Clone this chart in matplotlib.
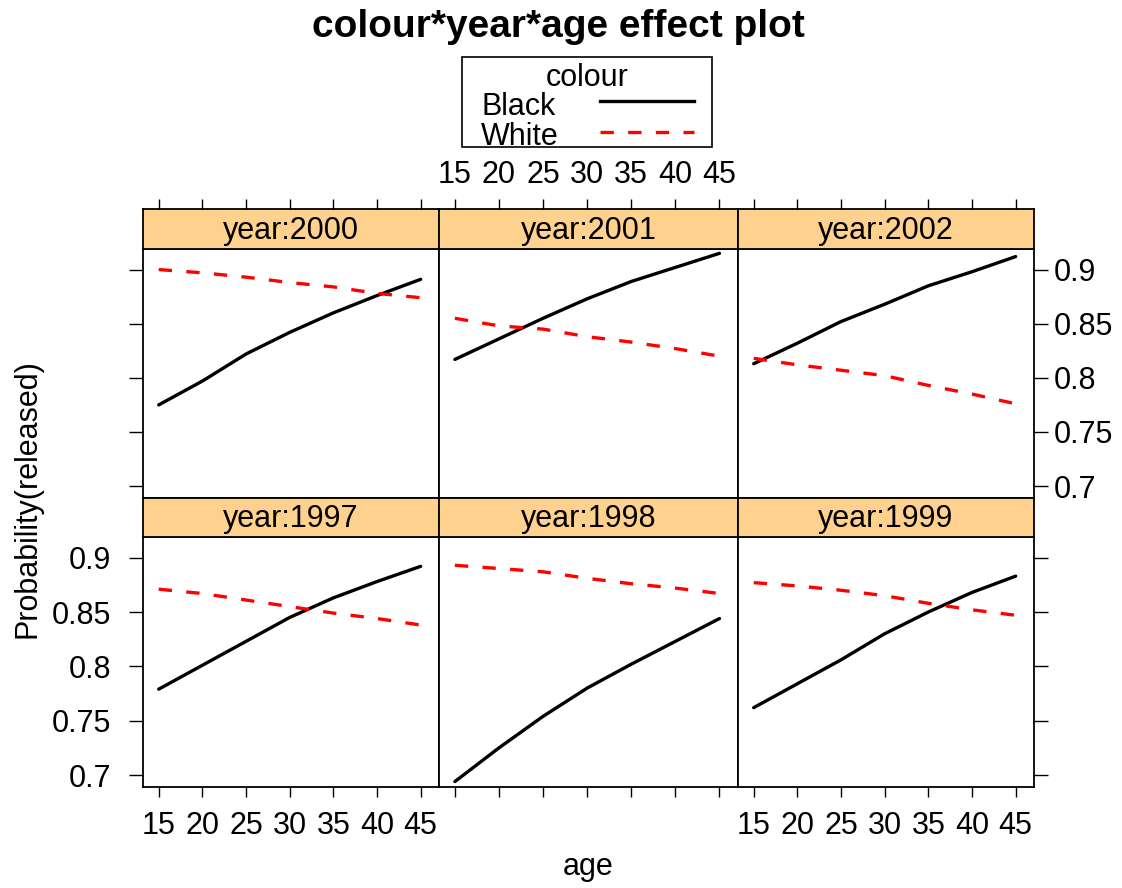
import matplotlib
matplotlib.use('Agg')
import matplotlib.pyplot as plt
from matplotlib.patches import Rectangle
from matplotlib.lines import Line2D

plt.rcParams['font.family'] = ['Liberation Sans', 'DejaVu Sans']

'''values read off the effect plot'''
ages = [15, 20, 25, 30, 35, 40, 45]
years = [2000, 2001, 2002, 1997, 1998, 1999]   # panel order, top row first

black_1997 = [0.779, 0.801, 0.823, 0.845, 0.863, 0.878, 0.892]
black_1998 = [0.694, 0.725, 0.754, 0.780, 0.802, 0.823, 0.844]
black_1999 = [0.762, 0.784, 0.806, 0.830, 0.850, 0.868, 0.883]
black_2000 = [0.775, 0.797, 0.822, 0.842, 0.860, 0.876, 0.891]
black_2001 = [0.817, 0.836, 0.855, 0.873, 0.889, 0.902, 0.915]
black_2002 = [0.813, 0.832, 0.852, 0.868, 0.885, 0.898, 0.912]

white_1997 = [0.871, 0.867, 0.861, 0.855, 0.849, 0.844, 0.838]
white_1998 = [0.893, 0.890, 0.887, 0.881, 0.876, 0.872, 0.867]
white_1999 = [0.877, 0.874, 0.870, 0.865, 0.858, 0.852, 0.847]
white_2000 = [0.900, 0.897, 0.893, 0.888, 0.884, 0.878, 0.874]
white_2001 = [0.855, 0.848, 0.845, 0.838, 0.833, 0.827, 0.820]
white_2002 = [0.818, 0.812, 0.807, 0.802, 0.793, 0.785, 0.776]

y_ticks = [0.7, 0.75, 0.8, 0.85, 0.9]
y_labels = ['0.7', '0.75', '0.8', '0.85', '0.9']

black = {1997: black_1997, 1998: black_1998, 1999: black_1999,
         2000: black_2000, 2001: black_2001, 2002: black_2002}
white = {1997: white_1997, 1998: white_1998, 1999: white_1999,
         2000: white_2000, 2001: white_2001, 2002: white_2002}

W, H = 1122, 888
FS = 22
strip_col = '#FFD18F'

fig = plt.figure(figsize=(W / 100, H / 100), dpi=100)


def box(x0, y0, x1, y1):
    # pixel box -> figure fraction
    return [x0 / W, 1 - y1 / H, (x1 - x0) / W, (y1 - y0) / H]


col_x = [143, 439, 738, 1034]
rows = [(209, 249, 498), (498, 537, 787)]   # strip top, panel top, panel bottom

for i, yr in enumerate(years):
    r, c = divmod(i, 3)
    st, pt, pb = rows[r]
    x0, x1 = col_x[c], col_x[c + 1]

    ax = fig.add_axes(box(x0, pt, x1, pb))
    ax.plot(ages, black[yr], color='black', lw=2.4, solid_capstyle='round')
    ax.plot(ages, white[yr], color='red', lw=2.4, dashes=(4, 4.3))
    ax.set_xlim(13.2, 47.1)
    ax.set_ylim(0.689, 0.919)
    ax.set_xticks(ages)
    ax.set_xticklabels([str(a) for a in ages])
    ax.set_yticks(y_ticks)
    ax.set_yticklabels(y_labels)
    for s in ax.spines.values():
        s.set_linewidth(1.3)

    ax.tick_params(axis='x', direction='out', length=7.5, width=1, labelsize=FS,
                   pad=10, top=False, bottom=(r == 1),
                   labelbottom=(r == 1 and c != 1))
    ax.tick_params(axis='y', direction='out', length=10, width=1, labelsize=FS,
                   left=(c == 0), right=(c == 2),
                   labelleft=(r == 1 and c == 0), labelright=(r == 0 and c == 2))
    ax.tick_params(axis='y', which='major', pad=13 if c == 0 else 4)

    sax = fig.add_axes(box(x0, st, x1, pt))
    sax.set_facecolor(strip_col)
    sax.set_xlim(13.2, 47.1)
    sax.set_yticks([])
    for s in sax.spines.values():
        s.set_linewidth(1.3)
    sax.text(0.5, 0.45, 'year:' + str(yr), transform=sax.transAxes,
             ha='center', va='center', fontsize=FS)
    if r == 0:
        sax.set_xticks(ages)
        sax.set_xticklabels([str(a) for a in ages])
        sax.tick_params(axis='x', direction='out', length=7.5, width=1,
                        labelsize=FS, pad=6, bottom=False, labelbottom=False,
                        top=True, labeltop=(c == 1))
    else:
        sax.set_xticks([])

'''title, axis labels'''
fig.text(558 / W, 1 - 37 / H, 'colour*year*age effect plot', ha='center',
         va='baseline', fontsize=28, fontweight='bold')
fig.text(588 / W, 1 - 875 / H, 'age', ha='center', va='baseline', fontsize=FS)
fig.text(28 / W, 1 - 499 / H, 'Probability(released)', rotation=90,
         ha='center', va='center', fontsize=FS)

'''key drawn by hand, lattice style'''
fig.add_artist(Rectangle((462 / W, 1 - 147 / H), 250 / W, 90 / H,
                         transform=fig.transFigure, fill=False, lw=1.2,
                         edgecolor='black'))
fig.text(587 / W, 1 - 86 / H, 'colour', ha='center', va='baseline', fontsize=FS)
fig.text(481 / W, 1 - 115 / H, 'Black', ha='left', va='baseline', fontsize=FS)
fig.text(481 / W, 1 - 145 / H, 'White', ha='left', va='baseline', fontsize=FS)
fig.add_artist(Line2D([600 / W, 694 / W], [1 - 101 / H, 1 - 101 / H],
                      transform=fig.transFigure, color='black', lw=2.4))
fig.add_artist(Line2D([600 / W, 694 / W], [1 - 132 / H, 1 - 132 / H],
                      transform=fig.transFigure, color='red', lw=2.4,
                      dashes=(4, 4.3)))

plt.savefig('out.png', dpi=100)
